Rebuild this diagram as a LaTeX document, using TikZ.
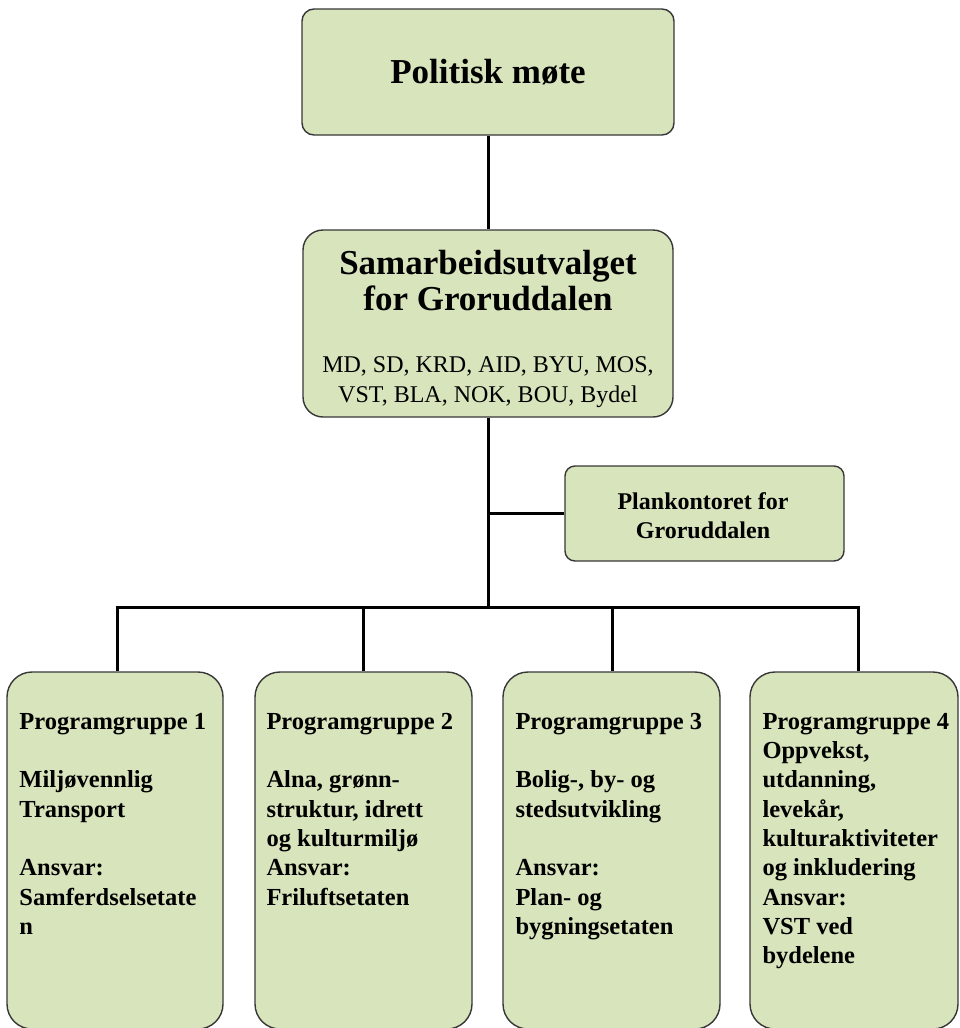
\documentclass[tikz,border=0pt]{standalone}
\usepackage{fontspec}
\setmainfont{Liberation Serif}
\usetikzlibrary{calc}
\definecolor{boxfill}{RGB}{216,228,188}
\definecolor{boxline}{RGB}{55,55,55}
\newcommand{\grouplines}[1]{\begin{tabular}[t]{@{}l@{}}#1\end{tabular}}
\begin{document}
\begin{tikzpicture}[x=1pt,y=-1pt,
  orgbox/.style={draw=boxline, line width=1.4pt, fill=boxfill, rounded corners=#1, inner sep=0pt},
  orgbox/.default=20pt,
  link/.style={line width=3pt, draw=black},
  headtext/.style={anchor=base, inner sep=0pt, font=\bfseries\fontsize{35}{40}\selectfont},
  subtext/.style={anchor=base, inner sep=0pt, font=\fontsize{24}{29}\selectfont},
  planktext/.style={anchor=base, inner sep=0pt, font=\bfseries\fontsize{24}{29}\selectfont},
  grouptext/.style={anchor=base west, inner sep=0pt, font=\bfseries\fontsize{24.5}{29.3}\selectfont}
]
\useasboundingbox (0,0) rectangle (959,1028);

% boxes
\node[orgbox=12pt, minimum width=372pt, minimum height=126pt] (top) at (488,72) {};
\node[orgbox=20pt, minimum width=370pt, minimum height=187pt] (mid) at (488,323.5) {};
\node[orgbox=10pt, minimum width=279pt, minimum height=95pt] (plank) at (704.5,513.5) {};
\node[orgbox=25pt, minimum width=216pt, minimum height=357pt] (g1) at (115,850.5) {};
\node[orgbox=25pt, minimum width=217pt, minimum height=357pt] (g2) at (363.5,850.5) {};
\node[orgbox=25pt, minimum width=217pt, minimum height=357pt] (g3) at (611.5,850.5) {};
\node[orgbox=25pt, minimum width=208pt, minimum height=357pt] (g4) at (854,850.5) {};

% texts
\node[headtext] (toptxt) at (488,83) {Politisk møte};
\node[headtext] (midtxt1) at (488,274) {Samarbeidsutvalget};
\node[headtext] (midtxt2) at (488,310) {for Groruddalen};
\node[subtext] (midtxt3) at (488,372) {MD, SD, KRD, AID, BYU, MOS,};
\node[subtext] (midtxt4) at (488,402) {VST, BLA, NOK, BOU, Bydel};
\node[planktext] (plank1) at (703,509) {Plankontoret for};
\node[planktext] (plank2) at (703,538) {Groruddalen};

\node[grouptext] (t1) at ($(g1.north west)+(13,58)$) {\grouplines{Programgruppe 1\\ \\Miljøvennlig\\Transport\\ \\Ansvar:\\Samferdselsetate\\n}};
\node[grouptext] (t2) at ($(g2.north west)+(12,58)$) {\grouplines{Programgruppe 2\\ \\Alna, grønn-\\struktur, idrett\\og kulturmiljø\\Ansvar:\\Friluftsetaten}};
\node[grouptext] (t3) at ($(g3.north west)+(13,58)$) {\grouplines{Programgruppe 3\\ \\Bolig-, by- og\\stedsutvikling\\ \\Ansvar:\\Plan- og\\bygningsetaten}};
\node[grouptext] (t4) at ($(g4.north west)+(13,58)$) {\grouplines{Programgruppe 4\\Oppvekst,\\utdanning,\\levekår,\\kulturaktiviteter\\og inkludering\\Ansvar:\\VST ved\\bydelene}};

% connectors
\coordinate (bus) at (488,607);
\coordinate (d1) at (117,607);
\coordinate (d2) at (363,607);
\coordinate (d3) at (612,607);
\coordinate (d4) at (858,607);
\draw[link] (top.south) -- (mid.north);
\draw[link] (mid.south) -- (bus);
\draw[link] (plank.west) -- (plank.west -| mid.south);
\draw[link] (d1 |- g1.north) -- (d1) -- (d4) -- (d4 |- g4.north);
\draw[link] (d2) -- (d2 |- g2.north);
\draw[link] (d3) -- (d3 |- g3.north);
\end{tikzpicture}
\end{document}
